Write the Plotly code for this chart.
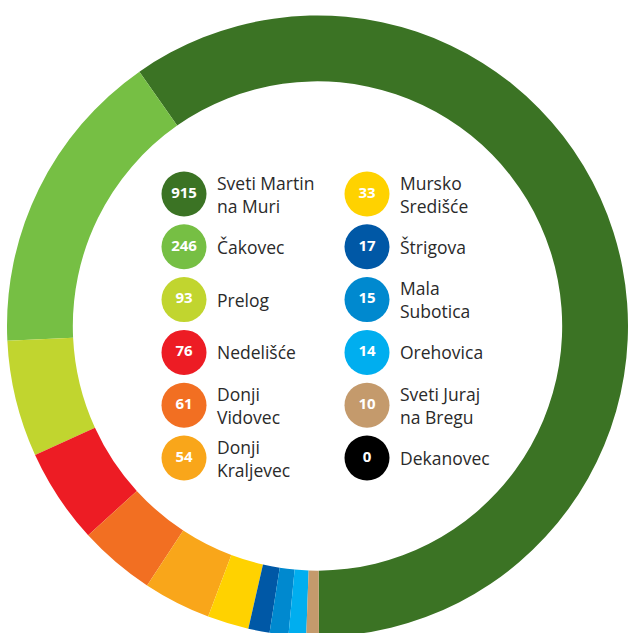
import plotly.graph_objects as go

names = ["Sveti Martin<br>na Muri", "Čakovec", "Prelog", "Nedelišće", "Donji<br>Vidovec",
         "Donji<br>Kraljevec", "Mursko<br>Središće", "Štrigova", "Mala<br>Subotica",
         "Orehovica", "Sveti Juraj<br>na Bregu", "Dekanovec"]
values = [915, 246, 93, 76, 61, 54, 33, 17, 15, 14, 10, 0]
colors = ["#3b7324", "#76bf44", "#c1d52f", "#ed1c24", "#f26f22", "#f9a61a",
          "#ffd200", "#0058a6", "#0089cf", "#00aeef", "#c49a6c", "#000000"]

W, H = 628, 640  # figure slightly taller than the window; bottom is clipped like the reference
fig = go.Figure()

R = 310.5
cx_from_left, cy_from_bottom = 7 + R, H - 326
fig.add_trace(go.Pie(
    values=values, labels=[n.replace("<br>", " ") for n in names],
    marker=dict(colors=colors, line=dict(width=0)),
    hole=0.788, sort=False, direction="counterclockwise", rotation=325,
    textinfo="none", hoverinfo="label+value", showlegend=False,
    domain=dict(x=[7 / W, 1.0],
                y=[(cy_from_bottom - R) / H, (cy_from_bottom + R) / H]),
))

# legend layout (page pixel positions)
col_x = [184, 367]
row_y = [194, 246.8, 299.6, 352.4, 405.2, 458]
lx, ly = [], []
for i in range(len(values)):
    c, r = divmod(i, 6)
    lx.append(col_x[c])
    ly.append(row_y[r])

fig.add_trace(go.Scatter(
    x=lx, y=ly, mode="markers+text",
    marker=dict(size=45, color=colors, line=dict(width=0)),
    text=[f"<b>{v}</b>" for v in values], textposition="middle center",
    textfont=dict(family="Open Sans", size=15, color="white"),
    hoverinfo="skip", showlegend=False,
))

for i, n in enumerate(names):
    fig.add_annotation(
        x=lx[i] + 31, y=ly[i], xref="x", yref="y", text=n, showarrow=False,
        xanchor="left", yanchor="middle", align="left",
        font=dict(family="Open Sans", size=17.5, color="#2a2a2a"),
    )

fig.update_xaxes(range=[0, W], visible=False, fixedrange=True)
fig.update_yaxes(range=[H, 0], visible=False, fixedrange=True)
fig.update_layout(
    width=W, height=H, margin=dict(l=0, r=0, t=0, b=0),
    paper_bgcolor="white", plot_bgcolor="rgba(0,0,0,0)",
)
fig.write_html(
    "out.html",
    config={"displayModeBar": False},
    post_script="document.body.style.margin='0';"
                "document.body.style.overflow='hidden';"
                "document.documentElement.style.overflow='hidden';",
)
